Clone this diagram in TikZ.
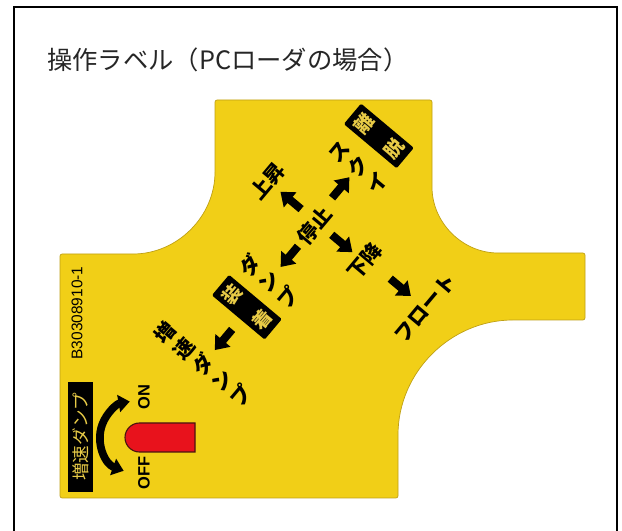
\documentclass[tikz,border=0pt]{standalone}
\usepackage{fontspec}
\setmainfont{Liberation Sans}
\newfontfamily\jp{Noto Sans CJK JP}
\usetikzlibrary{arrows.meta}
\definecolor{lyellow}{HTML}{F1CF17}
\definecolor{ledge}{HTML}{BFA015}
\definecolor{tyellow}{HTML}{E8CB47}
\definecolor{lred}{HTML}{E8121C}
\definecolor{dred}{HTML}{4A1410}
\tikzset{
  lbl/.style={font=\jp\bfseries\fontsize{14.5}{17.5}\selectfont,inner sep=0pt,align=center},
  tagbox/.style={fill=black,text=tyellow,rounded corners=1pt,inner sep=0pt,align=center,
                 minimum width=19pt,minimum height=49pt,font=\jp\bfseries\fontsize{13.5}{28}\selectfont},
  barr/.style={-{Triangle[length=9pt,width=13.5pt]},line width=5.7pt,black},
  swarr/.style={{Triangle[length=8pt,width=12pt]}-{Triangle[length=8pt,width=12pt]},line width=5.5pt,black},
  sw/.style={font=\bfseries\fontsize{11.7}{12}\selectfont,inner sep=0pt,rotate=90},
}
\begin{document}
\begin{tikzpicture}[x=0.25mm,y=0.25mm]
\useasboundingbox (0,0) rectangle (622,531);
% frame and title
\draw[line width=1.4pt] (14,-10) -- (14,524) -- (617,524) -- (617,-10);
\node[font=\jp\fontsize{18}{19}\selectfont,anchor=west,inner sep=0pt,text=black!85] (title) at (47,471) {操作ラベル（PCローダの場合）};
% label sheet
\draw[fill=lyellow,draw=ledge,line width=0.5pt,rounded corners=1.5pt] (60,33) -- (60,277) -- (131,277) arc (270:360:84)
  -- (215,431) -- (432,431) -- (432,346) arc (180:270:68) -- (585,278) -- (585,211) -- (515,211) arc (90:180:117)
  -- (398,33) -- cycle;
% lever directions, turned with the sheet
\begin{scope}[shift={(315,305)},rotate=50,transform shape]
\node[lbl] (stop) at (0,0) {停止};
\node[lbl] (up) at (4,65) {上昇};
\node[lbl] (down) at (5,-61) {下降};
\node[lbl] (float) at (8,-137) {フロート};
\node[lbl] (tilt) at (73,4) {ス\\ク\\イ};
\node[tagbox] (release) at (110,9) {離\\脱};
\node[lbl] (dump) at (-72,0) {ダ\\ン\\プ};
\node[tagbox] (attach) at (-106,0) {装\\着};
\node[lbl] (fastdump) at (-178,-3) {増\\速\\ダ\\ン\\プ};
\foreach \n/\x/\y/\dx/\dy in {au/4/35/0/1, ar/46/5/1/0, ad/4/-32/0/-1, add/8/-105/0/-1, al/-40/0/-1/0, all/-146/-3/-1/0}{
  \coordinate (\n-s) at ({\x-13.5*(\dx)},{\y-13.5*(\dy)});
  \coordinate (\n-e) at ({\x+13.5*(\dx)},{\y+13.5*(\dy)});
  \draw[barr] (\n-s) -- (\n-e);}
\end{scope}
% part number
\node[font=\fontsize{11}{12}\selectfont,rotate=90,inner sep=0pt] (partno) at (77,218) {B30308910-1};
% fast dump switch
\node[fill=black,text=tyellow,rotate=90,minimum width=78pt,minimum height=17.8pt,inner sep=0pt,
      font=\jp\fontsize{12.5}{13}\selectfont] (swtag) at (80.5,94) {増速ダンプ};
\node[sw] (on) at (144,134) {ON};
\node[sw] (off) at (144,58) {OFF};
\coordinate (pivot) at (136,94);
\draw[swarr] ([shift={(250:36)}]pivot) arc (250:100:36);
\draw[fill=lred,draw=dred,line width=0.8pt] (195,79) -- (139.5,79) arc (270:90:14.5) -- (195,108) -- cycle;
\end{tikzpicture}
\end{document}
